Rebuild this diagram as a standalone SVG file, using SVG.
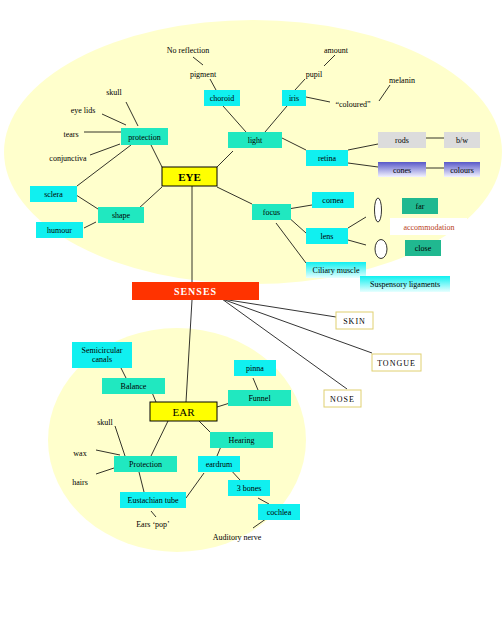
<svg xmlns="http://www.w3.org/2000/svg" width="504" height="618" viewBox="0 0 504 618">
<defs>
<linearGradient id="gBlue" x1="0" y1="0" x2="0" y2="1"><stop offset="0" stop-color="#5858C8"/><stop offset="1" stop-color="#F4F4FF"/></linearGradient>
<linearGradient id="gCyan" x1="0" y1="0" x2="0" y2="1"><stop offset="0" stop-color="#10F0F0"/><stop offset="1" stop-color="#E8FFFF"/></linearGradient>
<style>
.bg{fill:#FFFFCC;stroke:none}
.c{fill:#10F0F0}
.t{fill:#20E8C0}
.d{fill:#20B890}
.g{fill:#DCDCDC}
.b{fill:url(#gBlue)}
.gc{fill:url(#gCyan)}
.y{fill:#FFFF00;stroke:#000;stroke-width:1}
.w{fill:#FFFFFF;stroke:#E0D070;stroke-width:1}
text{font-family:"Liberation Serif","Times New Roman",serif;font-size:8px;fill:#000;text-anchor:middle}
.big{font-size:11px}
.bold{font-weight:bold}
.sp{letter-spacing:1px}
#connectors line{stroke:#000;stroke-width:0.8}
</style>
</defs>
<rect width="504" height="618" fill="#FFFFFF"/>
<ellipse class="bg" cx="253" cy="152" rx="249" ry="132"/>
<ellipse class="bg" cx="177" cy="440" rx="129" ry="112"/>

<g id="connectors">
<line x1="193" y1="57" x2="203" y2="65"/>
<line x1="210" y1="79" x2="216" y2="90"/>
<line x1="223" y1="106" x2="246" y2="132"/>
<line x1="335" y1="55" x2="324" y2="66"/>
<line x1="305" y1="79" x2="295" y2="90"/>
<line x1="287" y1="106" x2="265" y2="132"/>
<line x1="306" y1="97" x2="330" y2="102"/>
<line x1="379" y1="101" x2="390" y2="85"/>
<line x1="282" y1="138" x2="306" y2="150"/>
<line x1="348" y1="150" x2="378" y2="144"/>
<line x1="348" y1="163" x2="378" y2="167"/>
<line x1="426" y1="138" x2="444" y2="138"/>
<line x1="426" y1="168" x2="444" y2="168"/>
<line x1="233" y1="151" x2="217" y2="167"/>
<line x1="126" y1="102" x2="138" y2="126"/>
<line x1="102" y1="114" x2="126" y2="125"/>
<line x1="84" y1="132" x2="121" y2="132"/>
<line x1="90" y1="155" x2="120" y2="144"/>
<line x1="151" y1="145" x2="162" y2="167"/>
<line x1="131" y1="145" x2="77" y2="186"/>
<line x1="73" y1="193" x2="98" y2="209"/>
<line x1="138" y1="209" x2="162" y2="187"/>
<line x1="84" y1="228" x2="96" y2="222"/>
<line x1="217" y1="187" x2="252" y2="204"/>
<line x1="288" y1="209" x2="312" y2="205"/>
<line x1="287" y1="216" x2="306" y2="233"/>
<line x1="276" y1="223" x2="306" y2="263"/>
<line x1="348" y1="228" x2="366" y2="217"/>
<line x1="348" y1="240" x2="366" y2="245"/>
<line x1="192" y1="186" x2="192" y2="282"/>
<line x1="192" y1="300" x2="186" y2="402"/>
<line x1="222" y1="299" x2="336" y2="317"/>
<line x1="222" y1="299" x2="372" y2="353"/>
<line x1="222" y1="299" x2="347" y2="389"/>
<line x1="121" y1="368" x2="126" y2="378"/>
<line x1="151" y1="390" x2="156" y2="402"/>
<line x1="253" y1="378" x2="258" y2="390"/>
<line x1="233" y1="402" x2="217" y2="407"/>
<line x1="199" y1="421" x2="210" y2="432"/>
<line x1="168" y1="421" x2="151" y2="456"/>
<line x1="115" y1="426" x2="125" y2="456"/>
<line x1="96" y1="450" x2="120" y2="455"/>
<line x1="96" y1="474" x2="114" y2="468"/>
<line x1="139" y1="472" x2="144" y2="492"/>
<line x1="222" y1="444" x2="217" y2="456"/>
<line x1="204" y1="473" x2="186" y2="498"/>
<line x1="229" y1="468" x2="240" y2="480"/>
<line x1="258" y1="498" x2="269" y2="504"/>
<line x1="270" y1="516" x2="253" y2="528"/>
<line x1="151" y1="511" x2="156" y2="517"/>
</g>

<g id="no-reflection"><text x="188" y="53">No reflection</text></g>
<g id="amount"><text x="336" y="53">amount</text></g>
<g id="pigment"><text x="203" y="77">pigment</text></g>
<g id="pupil"><text x="314" y="77">pupil</text></g>
<g id="melanin"><text x="402" y="83">melanin</text></g>
<g id="coloured"><text x="353" y="107">“coloured”</text></g>
<g id="skull-eye"><text x="114" y="95">skull</text></g>
<g id="eye-lids"><text x="83" y="113">eye lids</text></g>
<g id="tears"><text x="71" y="137">tears</text></g>
<g id="conjunctiva"><text x="68" y="161">conjunctiva</text></g>
<g id="choroid"><rect class="c" x="204" y="90" width="36" height="16"/><text x="222" y="101">choroid</text></g>
<g id="iris"><rect class="c" x="282" y="90" width="24" height="16"/><text x="294" y="101">iris</text></g>
<g id="protection-eye"><rect class="t" x="121" y="128" width="47" height="17"/><text x="144.5" y="139.5">protection</text></g>
<g id="light"><rect class="t" x="228" y="132" width="54" height="16"/><text x="255" y="143">light</text></g>
<g id="retina"><rect class="c" x="306" y="150" width="42" height="16"/><text x="327" y="161">retina</text></g>
<g id="rods"><rect class="g" x="378" y="132" width="48" height="16"/><text x="402" y="143">rods</text></g>
<g id="bw"><rect class="g" x="444" y="132" width="36" height="16"/><text x="462" y="143">b/w</text></g>
<g id="cones"><rect class="b" x="378" y="162" width="48" height="15"/><text x="402" y="173">cones</text></g>
<g id="colours"><rect class="b" x="444" y="162" width="36" height="15"/><text x="462" y="173">colours</text></g>
<g id="eye"><rect class="y" x="162" y="167" width="55" height="19"/><text class="big bold" x="189.5" y="180.5">EYE</text></g>
<g id="sclera"><rect class="c" x="30" y="186" width="47" height="16"/><text x="53.5" y="197">sclera</text></g>
<g id="shape"><rect class="t" x="98" y="207" width="46" height="16"/><text x="121" y="218">shape</text></g>
<g id="humour"><rect class="c" x="36" y="222" width="47" height="16"/><text x="59.5" y="233">humour</text></g>
<g id="focus"><rect class="t" x="252" y="204" width="39" height="16"/><text x="271.5" y="215">focus</text></g>
<g id="cornea"><rect class="c" x="312" y="192" width="42" height="16"/><text x="333" y="203">cornea</text></g>
<g id="lens"><rect class="c" x="306" y="228" width="42" height="16"/><text x="327" y="239">lens</text></g>
<g id="lens-far"><ellipse cx="378" cy="210" rx="3.5" ry="12" fill="#FFFFFF" stroke="#000" stroke-width="0.8"/></g>
<g id="lens-close"><ellipse cx="381" cy="249" rx="6" ry="9.5" fill="#FFFFFF" stroke="#000" stroke-width="0.8"/></g>
<g id="far"><rect class="d" x="402" y="198" width="36" height="16"/><text x="420" y="209">far</text></g>
<g id="accommodation"><rect fill="#FFFFFF" x="390" y="218" width="77" height="17"/><text x="429" y="229.5" fill="#B84020" style="fill:#B84020">accommodation</text></g>
<g id="close"><rect class="d" x="405" y="240" width="36" height="16"/><text x="423" y="251">close</text></g>
<g id="ciliary-muscle"><rect class="gc" x="306" y="262" width="60" height="16"/><text x="336" y="273">Ciliary muscle</text></g>
<g id="suspensory-ligaments"><rect class="gc" x="360" y="276" width="90" height="16"/><text x="405" y="287">Suspensory ligaments</text></g>
<g id="senses"><rect fill="#FF3300" x="132" y="282" width="127" height="18"/><text class="bold sp" x="195.5" y="294.5" style="fill:#FFFFFF;font-size:10px">SENSES</text></g>
<g id="skin"><rect class="w" x="336" y="312" width="37" height="17"/><text class="sp" x="354.5" y="323.5">SKIN</text></g>
<g id="tongue"><rect class="w" x="372" y="354" width="49" height="17"/><text class="sp" x="396.5" y="365.5">TONGUE</text></g>
<g id="nose"><rect class="w" x="324" y="390" width="37" height="17"/><text class="sp" x="342.5" y="401.5">NOSE</text></g>
<g id="semicircular-canals"><rect class="c" x="72" y="342" width="60" height="26"/><text x="102" y="353">Semicircular</text><text x="102" y="362">canals</text></g>
<g id="balance"><rect class="t" x="102" y="378" width="63" height="16"/><text x="133.5" y="389">Balance</text></g>
<g id="pinna"><rect class="c" x="234" y="360" width="42" height="16"/><text x="255" y="371">pinna</text></g>
<g id="funnel"><rect class="t" x="228" y="390" width="63" height="16"/><text x="259.5" y="401">Funnel</text></g>
<g id="ear"><rect class="y" x="150" y="402" width="67" height="19"/><text class="big" x="183.5" y="415.5">EAR</text></g>
<g id="skull-ear"><text x="105" y="425">skull</text></g>
<g id="wax"><text x="80" y="456">wax</text></g>
<g id="hairs"><text x="80" y="485">hairs</text></g>
<g id="protection-ear"><rect class="t" x="114" y="456" width="63" height="16"/><text x="145.5" y="467">Protection</text></g>
<g id="hearing"><rect class="t" x="210" y="432" width="63" height="16"/><text x="241.5" y="443">Hearing</text></g>
<g id="eardrum"><rect class="c" x="198" y="456" width="42" height="16"/><text x="219" y="467">eardrum</text></g>
<g id="three-bones"><rect class="c" x="228" y="480" width="42" height="16"/><text x="249" y="491">3 bones</text></g>
<g id="cochlea"><rect class="c" x="258" y="504" width="42" height="16"/><text x="279" y="515">cochlea</text></g>
<g id="eustachian-tube"><rect class="c" x="120" y="492" width="66" height="16"/><text x="153" y="503">Eustachian tube</text></g>
<g id="ears-pop"><text x="153" y="527">Ears ‘pop’</text></g>
<g id="auditory-nerve"><text x="237" y="540">Auditory nerve</text></g>
</svg>
